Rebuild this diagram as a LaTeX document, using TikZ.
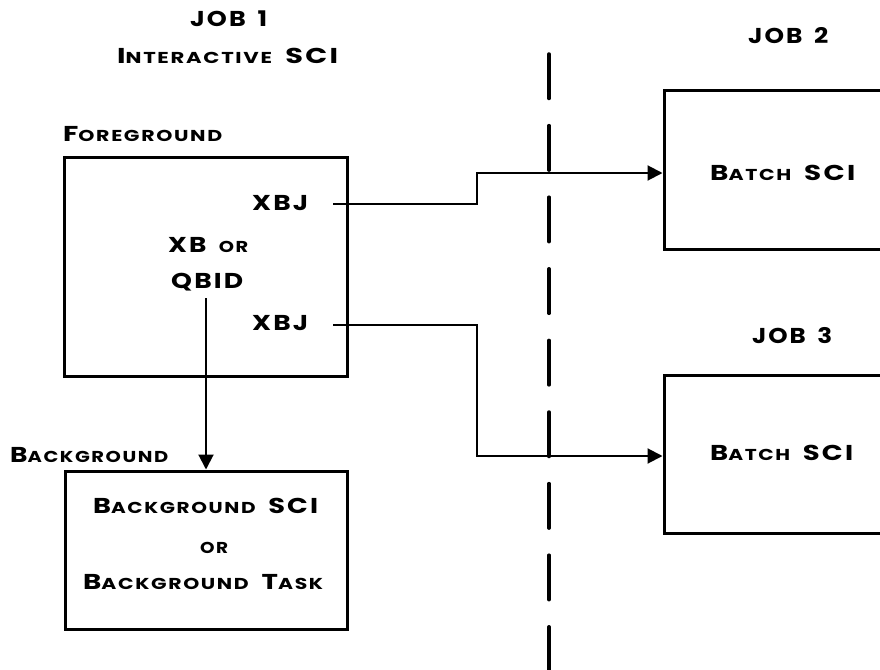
\documentclass[tikz,border=0pt]{standalone}
\usepackage{fontspec}
\usepackage{graphicx}
\setmainfont{Poppins}[LetterSpace=8]
\usetikzlibrary{arrows.meta}
\newcommand\capL[1]{{\fontsize{21.5}{23}\selectfont #1}}
\newcommand\capS[1]{{\fontsize{15.8}{17}\selectfont #1}}
\newcommand\wsp{\hspace{10pt}}
\newcommand\fitto[2]{\resizebox{#1pt}{\height}{#2}}
\tikzset{
  lab/.style={inner sep=0pt, anchor=base west, font=\bfseries},
  box/.style={draw, line width=3pt, rectangle, inner sep=0pt},
  conn/.style={line width=2pt},
  arr/.style={conn, -{Triangle[length=15pt,width=15pt]}},
  divider/.style={line width=3.5pt, line cap=round, dash pattern=on 44.5pt off 27.1pt}
}
\begin{document}
\begin{tikzpicture}[x=1pt,y=-1pt]
\useasboundingbox (0,0) rectangle (880,669);
\clip (0,0) rectangle (880,669);
% boxes
\node[box, minimum width=283pt, minimum height=219pt] (fg) at (205.5,266.5) {};
\node[box, minimum width=282pt, minimum height=158pt] (bg) at (206,550) {};
\node[box, minimum width=300pt, minimum height=159pt] (b2) at (814,169.5) {};
\node[box, minimum width=300pt, minimum height=158pt] (b3) at (814,454) {};
% texts
\node[lab] (job1) at (190,27) {\fitto{77}{\capL{JOB\wsp 1}}};
\node[lab] (inter) at (117,64) {\fitto{221}{\capL{I}\capS{NTERACTIVE}\wsp\capL{SCI}}};
\node[lab] (fglab) at (63,141) {\fitto{159}{\capL{F}\capS{OREGROUND}}};
\node[lab] (xbj1) at (252,210) {\fitto{56}{\capL{XBJ}}};
\node[lab] (xbor) at (168,252) {\fitto{80}{\capL{XB}\wsp\capS{OR}}};
\node[lab] (qbid) at (171,288) {\fitto{72}{\capL{QBID}}};
\node[lab] (xbj2) at (252,330) {\fitto{56}{\capL{XBJ}}};
\node[lab] (bglab) at (10,462) {\fitto{158}{\capL{B}\capS{ACKGROUND}}};
\node[lab] (bgsci) at (93,513) {\fitto{225}{\capL{B}\capS{ACKGROUND}\wsp\capL{SCI}}};
\node[lab] (bgor) at (200,553) {\fitto{28}{\capS{OR}}};
\node[lab] (bgtask) at (83,589) {\fitto{240}{\capL{B}\capS{ACKGROUND}\wsp\capL{T}\capS{ASK}}};
\node[lab] (job2) at (748,44) {\fitto{80}{\capL{JOB\wsp 2}}};
\node[lab] (batch2) at (710,180) {\fitto{145}{\capL{B}\capS{ATCH}\wsp\capL{SCI}}};
\node[lab] (job3) at (752,343) {\fitto{80}{\capL{JOB\wsp 3}}};
\node[lab] (batch3) at (710,460) {\fitto{143}{\capL{B}\capS{ATCH}\wsp\capL{SCI}}};
% divider
\coordinate (d1) at (549,54);
\coordinate (d2) at (549,690);
\draw[divider] (d1) -- (d2);
% connectors
\coordinate (s1) at (333,204);
\coordinate (k1) at (477,204);
\coordinate (k2) at (477,173);
\coordinate (s2) at (333,325);
\coordinate (m1) at (477,325);
\coordinate (m2) at (477,456);
\coordinate (a0) at (206,298);
\draw[arr] (s1) -- (k1) -- (k2) -- (b2.west |- k2);
\draw[arr] (s2) -- (m1) -- (m2) -- (b3.west |- m2);
\draw[arr] (a0) -- (a0 |- bg.north);
\end{tikzpicture}
\end{document}
